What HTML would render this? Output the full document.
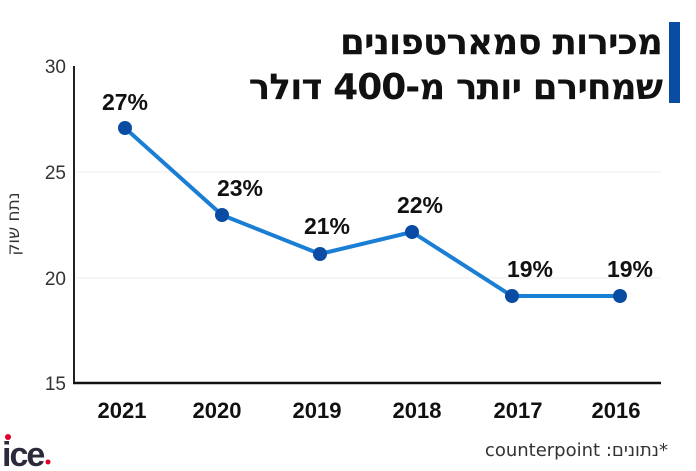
<!DOCTYPE html>
<html><head><meta charset="utf-8"><style>
body{margin:0;background:#fff;width:696px;height:471px;overflow:hidden;position:relative}
svg{display:block;position:absolute;left:0;top:0}
text{font-family:"Liberation Sans","DejaVu Sans",sans-serif}
.t{position:absolute;right:34px;direction:rtl;font-family:"DejaVu Sans",sans-serif;font-weight:bold;font-size:36px;color:#111;white-space:nowrap;line-height:45px;letter-spacing:-1px}
.f{position:absolute;right:28px;top:440px;direction:rtl;font-family:"DejaVu Sans","Liberation Sans",sans-serif;font-size:18px;color:#333;white-space:nowrap}
.y{position:absolute;left:-26px;top:214px;width:80px;text-align:center;transform:rotate(-90deg);direction:rtl;font-family:"DejaVu Sans",sans-serif;font-size:17px;color:#333}
</style></head><body>
<svg width="696" height="471" viewBox="0 0 696 471">
<rect x="669" y="22" width="11" height="81" fill="#0a4ba3"/>
<line x1="76" y1="172" x2="661" y2="172" stroke="#eee" stroke-width="1"/>
<line x1="76" y1="278" x2="661" y2="278" stroke="#eee" stroke-width="1"/>
<line x1="74" y1="66" x2="74" y2="383" stroke="#222" stroke-width="2"/>
<line x1="73" y1="383" x2="661" y2="383" stroke="#111" stroke-width="2.5"/>
<g font-size="19" fill="#333" text-anchor="end">
<text x="66" y="73">30</text><text x="66" y="179">25</text><text x="66" y="285">20</text><text x="66" y="390">15</text>
</g>
<polyline points="125,128 222,215 320,254 412,232 512,296 620,296" fill="none" stroke="#1a7fd4" stroke-width="4" stroke-linejoin="round"/>
<g fill="#0a4ba3">
<circle cx="125" cy="128" r="7"/><circle cx="222" cy="215" r="7"/><circle cx="320" cy="254" r="7"/><circle cx="412" cy="232" r="7"/><circle cx="512" cy="296" r="7"/><circle cx="620" cy="296" r="7"/>
</g>
<g font-size="23" font-weight="bold" fill="#111" text-anchor="middle">
<text x="125" y="110">27%</text><text x="240" y="196">23%</text><text x="327" y="234">21%</text><text x="420" y="213">22%</text><text x="530" y="277">19%</text><text x="630" y="277">19%</text>
</g>
<g font-size="22" font-weight="bold" fill="#111" text-anchor="middle">
<text x="122" y="418">2021</text><text x="217" y="418">2020</text><text x="317" y="418">2019</text><text x="417" y="418">2018</text><text x="518" y="418">2017</text><text x="616" y="418">2016</text>
</g>
<text x="2" y="466" font-size="34" font-weight="bold" fill="#2a2a3a" letter-spacing="-2">ice</text>
<circle cx="8" cy="437" r="3" fill="#e0002a"/>
<circle cx="48" cy="462" r="2.5" fill="#e0002a"/>
</svg>
<div class="t" style="top:20px">מכירות סמארטפונים</div>
<div class="t" style="top:65px">שמחירם יותר מ-400 דולר</div>
<div class="y">נתח שוק</div>
<div class="f">*נתונים: counterpoint</div>
</body></html>
